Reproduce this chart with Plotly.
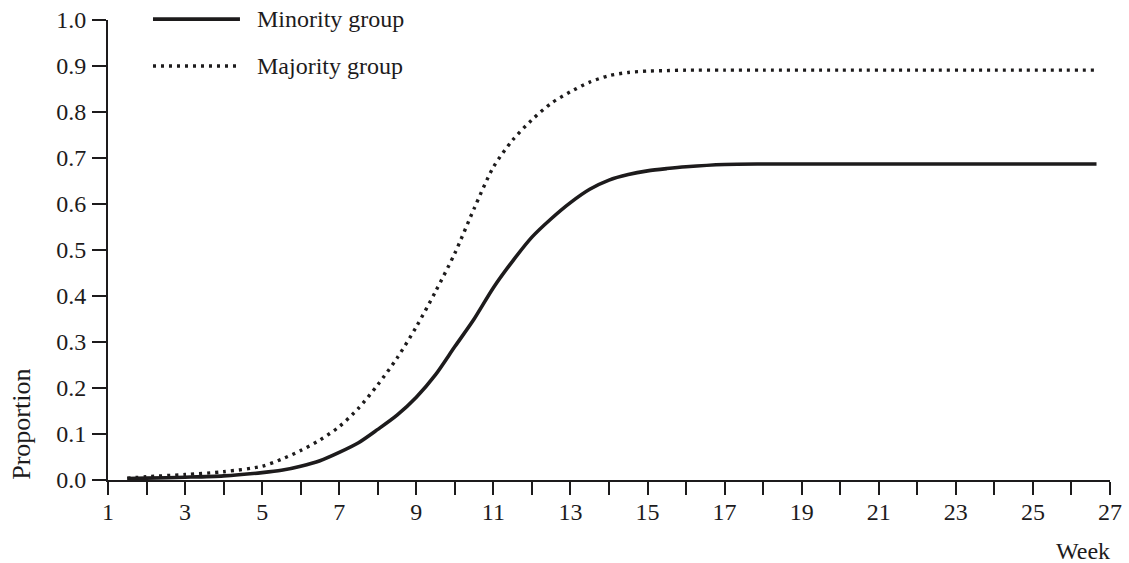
import plotly.graph_objects as go

weeks = [1.5, 2, 3, 4, 5, 5.5, 6, 6.5, 7, 7.5, 8, 8.5, 9, 9.5, 10, 10.5, 11,
         11.5, 12, 12.5, 13, 13.5, 14, 14.5, 15, 15.5, 16, 17, 18, 20, 22, 24, 26.65]
minority = [0.003, 0.004, 0.006, 0.009, 0.016, 0.021, 0.030, 0.042, 0.060, 0.081,
            0.110, 0.141, 0.180, 0.229, 0.290, 0.350, 0.418, 0.476, 0.528, 0.568,
            0.603, 0.632, 0.652, 0.664, 0.672, 0.677, 0.681, 0.686, 0.687, 0.687,
            0.687, 0.687, 0.687]
majority = [0.004, 0.007, 0.012, 0.018, 0.030, 0.045, 0.064, 0.087, 0.116, 0.156,
            0.207, 0.265, 0.333, 0.410, 0.493, 0.590, 0.680, 0.739, 0.783, 0.819,
            0.844, 0.865, 0.879, 0.886, 0.889, 0.890, 0.891, 0.891, 0.891, 0.891,
            0.891, 0.891, 0.891]
series_names = ["Minority group", "Majority group"]

x_tickvals = list(range(1, 28))
x_ticktext = [str(v) if v % 2 == 1 else "" for v in x_tickvals]
y_tickvals = [0.0, 0.1, 0.2, 0.3, 0.4, 0.5, 0.6, 0.7, 0.8, 0.9, 1.0]
y_ticktext = ["0.0", "0.1", "0.2", "0.3", "0.4", "0.5", "0.6", "0.7", "0.8", "0.9", "1.0"]

INK = "#1d1b1c"
FONT = "Liberation Serif"
SOLID = dict(color=INK, width=3.6)
DOTTED = dict(color=INK, width=3.4, dash="3px,5px")

fig = go.Figure()
fig.add_trace(go.Scatter(
    x=weeks, y=minority, mode="lines", name=series_names[0],
    line=dict(SOLID, shape="spline", smoothing=0.8),
))
fig.add_trace(go.Scatter(
    x=weeks, y=majority, mode="lines", name=series_names[1],
    line=dict(DOTTED, shape="spline", smoothing=0.8),
))

# key drawn in the top-left corner (paper coordinates)
key_x0, key_x1, key_tx = 0.0449, 0.1317, 0.1467
key_rows = [1.002, 0.90]
shapes = []
annotations = []
for name, style, ky in zip(series_names, [SOLID, DOTTED], key_rows):
    shapes.append(dict(type="line", xref="paper", yref="paper",
                       x0=key_x0, x1=key_x1, y0=ky, y1=ky, line=style))
    annotations.append(dict(text=name, xref="paper", yref="paper", x=key_tx, y=ky,
                            xanchor="left", yanchor="middle", showarrow=False,
                            font=dict(family=FONT, size=24, color=INK)))

annotations.append(dict(text="Proportion", xref="paper", yref="paper", x=-0.0858, y=0.12,
                        xanchor="center", yanchor="middle", textangle=-90, showarrow=False,
                        font=dict(family=FONT, size=26, color=INK)))
annotations.append(dict(text="Week", xref="paper", yref="paper", x=1.002, y=-0.155,
                        xanchor="right", yanchor="middle", showarrow=False,
                        font=dict(family=FONT, size=24, color=INK)))

fig.update_layout(
    width=1129, height=563,
    margin=dict(l=108, r=19, t=20, b=83),
    paper_bgcolor="white", plot_bgcolor="white",
    font=dict(family=FONT, size=24, color=INK),
    showlegend=False,
    shapes=shapes,
    annotations=annotations,
    xaxis=dict(
        range=[1, 27], tickvals=x_tickvals, ticktext=x_ticktext,
        showline=True, linecolor=INK, linewidth=2,
        ticks="outside", ticklen=13, tickwidth=2, tickcolor=INK,
        showgrid=False, zeroline=False, ticklabelstandoff=-4,
        automargin=False,
        tickfont=dict(family=FONT, size=24, color=INK),
    ),
    yaxis=dict(
        range=[0, 1], tickvals=y_tickvals, ticktext=y_ticktext,
        showline=True, linecolor=INK, linewidth=2,
        ticks="outside", ticklen=14, tickwidth=2, tickcolor=INK,
        showgrid=False, zeroline=False, ticklabelstandoff=1,
        automargin=False,
        tickfont=dict(family=FONT, size=24, color=INK),
    ),
)

# place the 1129x563 figure flush with the page corner (no default body margin)
fig.write_html("out.html", config={"displayModeBar": False},
               post_script="document.body.style.margin='0px';")
